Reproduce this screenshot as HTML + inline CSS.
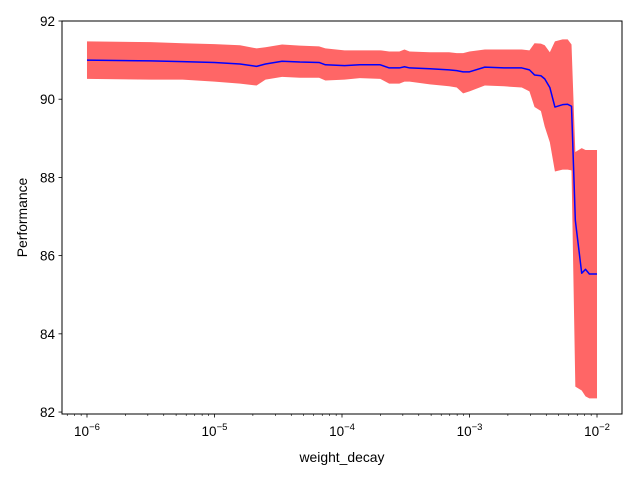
<!DOCTYPE html>
<html><head><meta charset="utf-8"><style>
body{margin:0;background:#fff}
svg text{font-family:"Liberation Sans","DejaVu Sans",sans-serif;fill:#000}
</style></head><body>
<svg id="chart" width="640" height="480" viewBox="0 0 640 480" xmlns="http://www.w3.org/2000/svg">
<rect x="0" y="0" width="640" height="480" fill="#fff"/>
<g id="plot"></g>
<g id="axes"></g>
</svg>
<script>
const logX = [-6.00,-5.50,-5.25,-5.00,-4.80,-4.67,-4.60,-4.47,-4.33,-4.18,-4.13,-3.98,-3.86,-3.70,-3.63,-3.55,-3.51,-3.47,-3.31,-3.16,-3.10,-3.05,-3.00,-2.88,-2.73,-2.59,-2.53,-2.49,-2.44,-2.41,-2.37,-2.33,-2.27,-2.23,-2.20,-2.17,-2.12,-2.09,-2.06,-2.00];
const meanVals = [91.00,90.98,90.96,90.94,90.90,90.84,90.90,90.97,90.95,90.94,90.88,90.86,90.88,90.88,90.80,90.80,90.83,90.80,90.78,90.75,90.73,90.70,90.70,90.82,90.80,90.80,90.75,90.62,90.60,90.52,90.30,89.80,89.86,89.87,89.82,86.90,85.55,85.65,85.53,85.53];
const upperVals = [91.48,91.46,91.43,91.41,91.38,91.30,91.33,91.40,91.37,91.35,91.30,91.25,91.25,91.25,91.22,91.22,91.27,91.22,91.20,91.20,91.18,91.18,91.22,91.27,91.27,91.27,91.25,91.43,91.42,91.38,91.20,91.48,91.53,91.53,91.40,88.65,88.75,88.70,88.70,88.70];
const lowerVals = [90.52,90.50,90.50,90.45,90.40,90.35,90.50,90.57,90.55,90.55,90.48,90.50,90.54,90.52,90.40,90.40,90.45,90.45,90.38,90.33,90.30,90.15,90.20,90.35,90.33,90.30,90.20,89.80,89.70,89.30,88.90,88.15,88.20,88.20,88.18,82.65,82.55,82.40,82.35,82.35];
const yTicks = [82,84,86,88,90,92];
const xTickExps = [-6,-5,-4,-3,-2];

const L=62,R=622,T=21,B=414;
const xMin=-6.196,xMax=-1.804,yMin=81.95,yMax=92.0;
const sx=v=>L+(v-xMin)/(xMax-xMin)*(R-L);
const sy=v=>B-(v-yMin)/(yMax-yMin)*(B-T);
const NS="http://www.w3.org/2000/svg";
function mk(tag,attrs,parent){const e=document.createElementNS(NS,tag);for(const k in attrs)e.setAttribute(k,attrs[k]);parent.appendChild(e);return e;}
const plot=document.getElementById('plot'),axes=document.getElementById('axes');

let d='';
logX.forEach((x,i)=>{d+=(i?'L':'M')+sx(x).toFixed(2)+','+sy(upperVals[i]).toFixed(2);});
for(let i=logX.length-1;i>=0;i--){d+='L'+sx(logX[i]).toFixed(2)+','+sy(lowerVals[i]).toFixed(2);}
const band=mk('path',{d:d+'Z',fill:'#ff6666',stroke:'none'},plot);


let m='';
logX.forEach((x,i)=>{m+=(i?'L':'M')+sx(x).toFixed(2)+','+sy(meanVals[i]).toFixed(2);});
const line=mk('path',{d:m,fill:'none',stroke:'#0000ff','stroke-width':1.5,'stroke-linejoin':'round'},plot);



const frame=mk('rect',{x:L,y:T,width:R-L,height:B-T,fill:'none',stroke:'#000','stroke-width':1},axes);



yTicks.forEach(v=>{
  const y=sy(v);
  mk('line',{x1:L-3.5,x2:L,y1:y,y2:y,stroke:'#000','stroke-width':0.8},axes);
  const t=mk('text',{x:L-7,y:y+5,'text-anchor':'end','font-size':'13.5px'},axes);
  t.textContent=v;
  
  
});
for(let e=-7;e<=-2;e++){
  for(let k=2;k<=9;k++){
    const lx=e+Math.log10(k);
    if(lx<xMin||lx>xMax)continue;
    mk('line',{x1:sx(lx),x2:sx(lx),y1:B,y2:B+2,stroke:'#000','stroke-width':0.6},axes);
  }
}
xTickExps.forEach(e=>{
  const x=sx(e);
  mk('line',{x1:x,x2:x,y1:B,y2:B+3.5,stroke:'#000','stroke-width':0.8},axes);
  const t=mk('text',{x:x,y:B+22,'text-anchor':'middle','font-size':'13.5px'},axes);
  
  
  const a=mk('tspan',{},t);a.textContent='10';
  const b=mk('tspan',{dy:-6,'font-size':'9.5px'},t);b.textContent='\u2212'+(-e);
});
const xl=mk('text',{x:(L+R)/2,y:462,'text-anchor':'middle','font-size':'13.9px'},axes);
xl.textContent='weight_decay';


const yl=mk('text',{x:0,y:0,'text-anchor':'middle','font-size':'13.9px',transform:'translate(27,'+((T+B)/2)+') rotate(-90)'},axes);
yl.textContent='Performance';


</script>
</body></html>
